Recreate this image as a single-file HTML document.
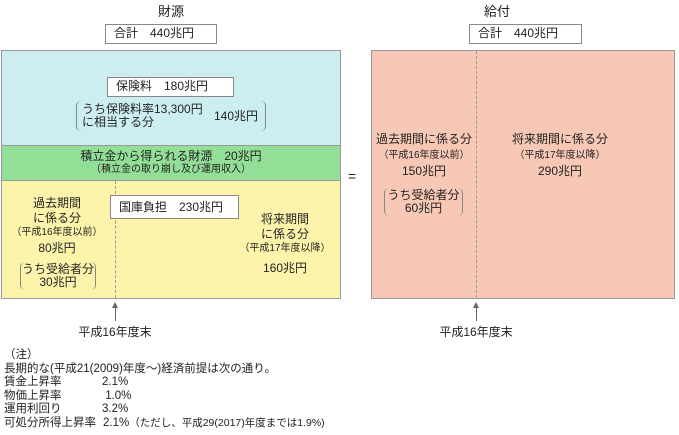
<!DOCTYPE html>
<html><head><meta charset="utf-8"><style>
body{margin:0;width:679px;height:435px;background:#fff;position:relative;overflow:hidden;font-family:"Liberation Sans","Noto Sans CJK JP",sans-serif;color:#222;font-size:12px}
div{position:absolute;box-sizing:border-box}
.t{white-space:nowrap;line-height:13px}
.c{text-align:center}
.s{font-size:10px}
.box{background:#fff;border:1px solid #888;line-height:17px;white-space:nowrap}
.dash{border-left:1px dashed #999;width:0}
.par{border:1px solid #888;border-top:none;border-bottom:none;border-radius:5px}
</style></head><body>
<div class="t c" style="left:141px;top:5px;width:60px;font-size:13px">財源</div>
<div class="box" style="left:105px;top:24px;width:112px;height:20px;padding-left:8px">合計　440兆円</div>
<div class="t c" style="left:467px;top:5px;width:60px;font-size:13px">給付</div>
<div class="box" style="left:469px;top:24px;width:113px;height:20px;padding-left:8px">合計　440兆円</div>

<div style="left:1px;top:50px;width:340px;height:96px;background:#cdeef0;border:1px solid #999;border-bottom:none"></div>
<div style="left:1px;top:145px;width:340px;height:36px;background:#93df97;border:1px solid #999;border-bottom:none"></div>
<div style="left:1px;top:180px;width:340px;height:119px;background:#fdf4ab;border:1px solid #999"></div>
<div class="dash" style="left:115px;top:181px;height:117px"></div>

<div class="box" style="left:107px;top:77px;width:127px;height:20px;padding-left:8px">保険料　180兆円</div>
<div class="par" style="left:76px;top:101px;width:190px;height:30px"></div>
<div class="t" style="left:82px;top:103px">うち保険料率13,300円<br>に相当する分</div>
<div class="t" style="left:214px;top:110px">140兆円</div>

<div class="t c" style="left:1px;top:150px;width:340px">積立金から得られる財源　20兆円</div>
<div class="t c s" style="left:1px;top:163px;width:340px">（積立金の取り崩し及び運用収入）</div>

<div class="box" style="left:110px;top:195px;width:129px;height:24px;line-height:22px;padding-left:8px">国庫負担　230兆円</div>
<div class="t c" style="left:2px;top:196px;width:110px;line-height:15px">過去期間<br>に係る分</div>
<div class="t c s" style="left:2px;top:226px;width:110px">（平成16年度以前）</div>
<div class="t c" style="left:2px;top:242px;width:110px">80兆円</div>
<div class="par" style="left:20px;top:262px;width:76px;height:28px"></div>
<div class="t c" style="left:20px;top:263px;width:76px">うち受給者分<br>30兆円</div>
<div class="t c" style="left:230px;top:212px;width:110px;line-height:15px">将来期間<br>に係る分</div>
<div class="t c s" style="left:230px;top:242px;width:110px">（平成17年度以降）</div>
<div class="t c" style="left:230px;top:262px;width:110px">160兆円</div>

<div style="left:115px;top:306px;width:1px;height:15px;background:#666"></div>
<div style="left:112px;top:302px;width:0;height:0;border-left:3.5px solid transparent;border-right:3.5px solid transparent;border-bottom:6px solid #666"></div>
<div class="t c" style="left:65px;top:326px;width:100px">平成16年度末</div>

<div class="t" style="left:348px;top:170px;font-size:14px">=</div>

<div style="left:371px;top:50px;width:304px;height:249px;background:#f7c8b5;border:1px solid #999"></div>
<div class="dash" style="left:476px;top:51px;height:247px"></div>
<div class="t c" style="left:372px;top:133px;width:104px">過去期間に係る分</div>
<div class="t c s" style="left:372px;top:149px;width:104px">（平成16年度以前）</div>
<div class="t c" style="left:372px;top:165px;width:104px">150兆円</div>
<div class="par" style="left:384px;top:188px;width:79px;height:28px"></div>
<div class="t c" style="left:384px;top:189px;width:79px">うち受給者分<br>60兆円</div>
<div class="t c" style="left:500px;top:133px;width:120px">将来期間に係る分</div>
<div class="t c s" style="left:500px;top:149px;width:120px">（平成17年度以降）</div>
<div class="t c" style="left:500px;top:165px;width:120px">290兆円</div>

<div style="left:476px;top:306px;width:1px;height:15px;background:#666"></div>
<div style="left:473px;top:302px;width:0;height:0;border-left:3.5px solid transparent;border-right:3.5px solid transparent;border-bottom:6px solid #666"></div>
<div class="t c" style="left:426px;top:326px;width:100px">平成16年度末</div>

<div class="t" style="left:4px;top:349px;font-size:11.5px;line-height:13.5px">（注）<br>長期的な(平成21(2009)年度～)経済前提は次の通り。<br>賃金上昇率<br>物価上昇率<br>運用利回り<br>可処分所得上昇率</div>
<div class="t" style="left:102px;top:376px;font-size:11.5px;line-height:13.5px">2.1%<br>&nbsp;1.0%<br>3.2%<br><span style="margin-left:1px">2.1%</span><span style="font-size:10.5px">（ただし、平成29(2017)年度までは1.9%)</span></div>
</body></html>
